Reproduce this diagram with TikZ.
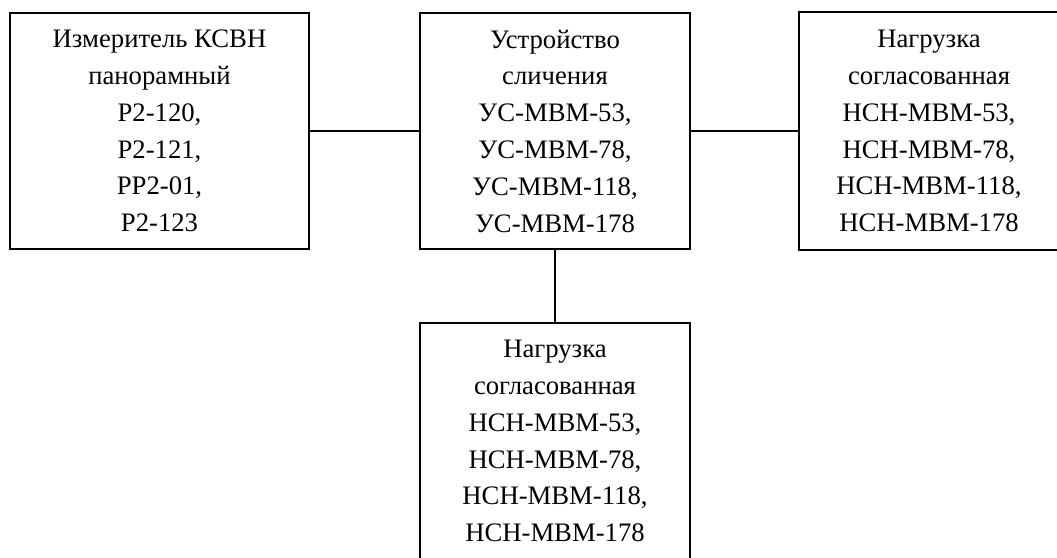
\documentclass[tikz,border=0pt]{standalone}
\usepackage{fontspec}
\setmainfont{Liberation Serif}
\begin{document}
\begin{tikzpicture}[x=1pt,y=-1pt,
  box/.style={draw=black,line width=1.6pt,rectangle,inner sep=0pt,align=center,
    font=\fontsize{26.7}{36.8}\selectfont,minimum height=236pt},
  link/.style={draw=black,line width=1.6pt}]
\useasboundingbox (0,0) rectangle (1057,557);
\node[box,minimum width=299pt] (b1) at (159.5,131) {Измеритель КСВН\\панорамный\\Р2-120,\\Р2-121,\\РР2-01,\\Р2-123};
\node[box,minimum width=270pt] (b2) at (555,131) {Устройство\\сличения\\УС-МВМ-53,\\УС-МВМ-78,\\УС-МВМ-118,\\УС-МВМ-178};
\node[box,minimum width=260pt,minimum height=238pt] (b3) at (929,131) {Нагрузка\\согласованная\\НСН-МВМ-53,\\НСН-МВМ-78,\\НСН-МВМ-118,\\НСН-МВМ-178};
\node[box,minimum width=270pt] (b4) at (555,441) {Нагрузка\\согласованная\\НСН-МВМ-53,\\НСН-МВМ-78,\\НСН-МВМ-118,\\НСН-МВМ-178};
\draw[link] (b1.east) -- (b2.west);
\draw[link] (b2.east) -- (b3.west);
\draw[link] (b2.south) -- (b4.north);
\end{tikzpicture}
\end{document}
